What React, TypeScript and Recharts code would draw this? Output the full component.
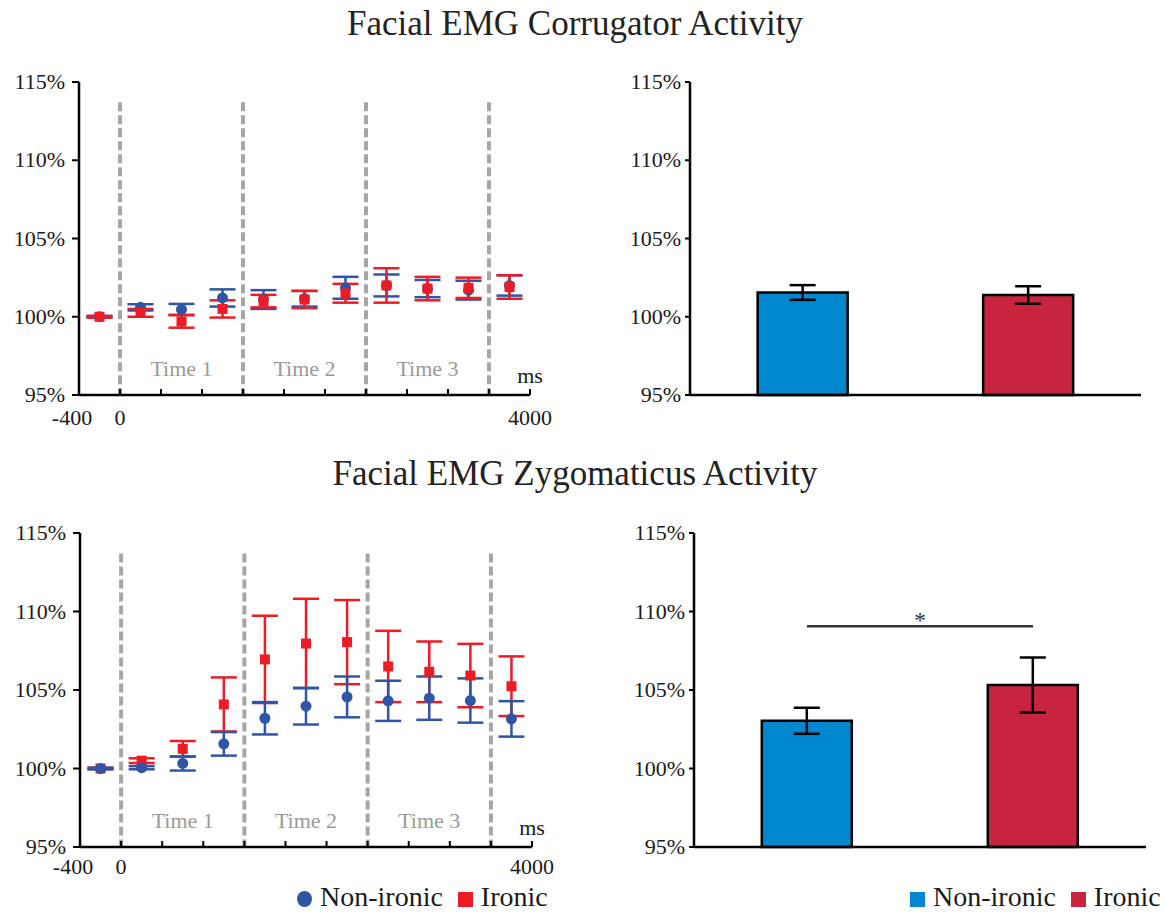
import { ScatterChart, Scatter, BarChart, Bar, Cell, XAxis, YAxis, ErrorBar, ReferenceLine, ReferenceDot } from 'recharts'

// time bins (ms) of the EMG windows
const times = [-200, 200, 600, 1000, 1400, 1800, 2200, 2600, 3000, 3400, 3800]
const xTicks = [-400, 0, 400, 800, 1200, 1600, 2000, 2400, 2800, 3200, 3600, 4000]
const xLabels = [-400, 0, 4000]
const yTicks = [95, 100, 105, 110, 115]
const periodBounds = [0, 1200, 2400, 3600]
const periodCenters = [600, 1800, 3000]
const periodNames = ['Time 1', 'Time 2', 'Time 3']

// corrugator, % of baseline
const corrNonIronic = [100, 100.6, 100.47, 101.2, 101.1, 101.15, 101.85, 102.0, 101.8, 101.7, 102.0]
const corrNonIronicErr = [0.05, 0.2, 0.35, 0.55, 0.6, 0.5, 0.7, 0.7, 0.55, 0.6, 0.65]
const corrIronic = [100, 100.25, 99.7, 100.5, 101.0, 101.1, 101.5, 102.0, 101.8, 101.85, 101.9]
const corrIronicErr = [0.05, 0.25, 0.4, 0.55, 0.4, 0.55, 0.6, 1.1, 0.75, 0.65, 0.75]

// zygomaticus, % of baseline
const zygNonIronic = [100, 100.05, 100.32, 101.57, 103.2, 103.97, 104.56, 104.31, 104.48, 104.33, 103.16]
const zygNonIronicErr = [0.05, 0.1, 0.45, 0.75, 1.03, 1.17, 1.3, 1.28, 1.38, 1.41, 1.13]
const zygIronic = [100, 100.5, 101.25, 104.08, 106.95, 107.96, 108.05, 106.5, 106.16, 105.92, 105.24]
const zygIronicErr = [0.05, 0.15, 0.5, 1.72, 2.78, 2.85, 2.68, 2.27, 1.93, 2.02, 1.9]

// mean over the whole window
const conditions = ['Non-ironic', 'Ironic']
const corrBarMeans = [101.55, 101.39]
const corrBarErr = [0.47, 0.56]
const zygBarMeans = [103.04, 105.32]
const zygBarErr = [0.83, 1.75]
const zygSignificance = 109.06

const BLUE = '#2f55a6'
const RED = '#ed1c24'
const barColors = ['#0087ce', '#c8233f']
const FONT = '"Liberation Serif", "Times New Roman", serif'

const toPoints = (vals: number[], errs: number[]) =>
  times.map((t, i) => ({ x: t, y: vals[i], err: errs[i] }))

function PctTick(props: any) {
  const { x, y, payload } = props
  return (
    <text x={x} y={y} dy={7} textAnchor="end" fill="#1a1a1a" fontSize={22} fontFamily={FONT}>
      {`${payload.value}%`}
    </text>
  )
}

function TimeTick(props: any) {
  const { x, y, payload, labelDy } = props
  const v = payload.value
  return (
    <g>
      {v > -400 && <line x1={x} x2={x} y1={y} y2={y - 6} stroke="#000" strokeWidth={2} />}
      {xLabels.includes(v) && (
        <text x={v === -400 ? x - 7 : x} y={y + labelDy} textAnchor="middle" fill="#1a1a1a" fontSize={22} fontFamily={FONT}>
          {v}
        </text>
      )}
    </g>
  )
}

const circleShape = (p: any) => <circle cx={p.cx} cy={p.cy} r={5.5} fill={BLUE} />
const squareShape = (p: any) => <rect x={p.cx - 5} y={p.cy - 5} width={10} height={10} fill={RED} />

interface TimePanelProps {
  nonIronic: { x: number; y: number; err: number }[]
  ironic: { x: number; y: number; err: number }[]
  ironicOnTop: boolean
  top: number
  yAxisWidth: number
  marginTop: number
  marginRight: number
  axisHeight: number
  labelDy: number
}

function TimePanel({ nonIronic, ironic, ironicOnTop, top, yAxisWidth, marginTop, marginRight, axisHeight, labelDy }: TimePanelProps) {
  const blue = (
    <Scatter key="blue" data={nonIronic} shape={circleShape} isAnimationActive={false}>
      <ErrorBar dataKey="err" direction="y" width={13} stroke={BLUE} strokeWidth={2.5} isAnimationActive={false} />
    </Scatter>
  )
  const red = (
    <Scatter key="red" data={ironic} shape={squareShape} isAnimationActive={false}>
      <ErrorBar dataKey="err" direction="y" width={13} stroke={RED} strokeWidth={2.5} isAnimationActive={false} />
    </Scatter>
  )
  return (
    <div style={{ position: 'absolute', left: 0, top }}>
      <ScatterChart width={580} height={400} margin={{ top: marginTop, right: marginRight, bottom: 5, left: 0 }}>
        <XAxis
          type="number"
          dataKey="x"
          domain={[-400, 4000]}
          ticks={xTicks}
          interval={0}
          tickSize={0}
          tickMargin={0}
          tickLine={false}
          axisLine={{ stroke: '#000', strokeWidth: 2.5 }}
          tick={(p: any) => <TimeTick {...p} labelDy={labelDy} />}
          height={axisHeight}
        />
        <YAxis
          type="number"
          dataKey="y"
          domain={[95, 115]}
          ticks={yTicks}
          interval={0}
          width={yAxisWidth}
          tickSize={7}
          tickMargin={7}
          axisLine={{ stroke: '#000', strokeWidth: 2.5 }}
          tickLine={{ stroke: '#000', strokeWidth: 2 }}
          tick={PctTick}
        />
        {periodBounds.map(b => (
          <ReferenceLine
            key={b}
            segment={[{ x: b, y: 113.7 }, { x: b, y: 95 }]}
            stroke="#a6a6a6"
            strokeWidth={4}
            strokeDasharray="9 4"
          />
        ))}
        {periodCenters.map((c, i) => (
          <ReferenceDot
            key={c}
            x={c}
            y={96.7}
            r={0}
            fill="none"
            stroke="none"
            label={{ value: periodNames[i], position: 'center', fill: '#9a9a9a', fontSize: 22, fontFamily: FONT }}
          />
        ))}
        <ReferenceDot
          x={4000}
          y={95}
          r={0}
          fill="none"
          stroke="none"
          label={{ value: 'ms', position: 'top', offset: 12, fill: '#1a1a1a', fontSize: 22, fontFamily: FONT }}
        />
        {ironicOnTop ? [blue, red] : [red, blue]}
      </ScatterChart>
    </div>
  )
}

interface BarPanelProps {
  means: number[]
  errs: number[]
  top: number
  yAxisWidth: number
  marginTop: number
  marginRight: number
  axisHeight: number
  significance?: number
}

function BarPanel({ means, errs, top, yAxisWidth, marginTop, marginRight, axisHeight, significance }: BarPanelProps) {
  const data = conditions.map((name, i) => ({ name, value: means[i], err: errs[i] }))
  return (
    <div style={{ position: 'absolute', left: 600, top }}>
      <BarChart width={565} height={400} data={data} margin={{ top: marginTop, right: marginRight, bottom: 5, left: 0 }} barCategoryGap="30%">
        <XAxis dataKey="name" tick={false} tickLine={false} axisLine={{ stroke: '#000', strokeWidth: 2.5 }} height={axisHeight} />
        <YAxis
          type="number"
          domain={[95, 115]}
          ticks={yTicks}
          interval={0}
          width={yAxisWidth}
          tickSize={5}
          tickMargin={4}
          axisLine={{ stroke: '#000', strokeWidth: 2.5 }}
          tickLine={{ stroke: '#000', strokeWidth: 2 }}
          tick={PctTick}
        />
        <Bar dataKey="value" stroke="#000" strokeWidth={2.5} isAnimationActive={false}>
          {data.map((d, i) => (
            <Cell key={d.name} fill={barColors[i]} />
          ))}
          <ErrorBar dataKey="err" direction="y" width={13} stroke="#000" strokeWidth={2.5} isAnimationActive={false} />
        </Bar>
        {significance !== undefined && (
          <ReferenceLine
            segment={[{ x: conditions[0], y: significance }, { x: conditions[1], y: significance }]}
            stroke="#333"
            strokeWidth={2.5}
            label={{ value: '*', position: 'top', offset: -2, fill: '#333', fontSize: 24, fontFamily: FONT }}
          />
        )}
      </BarChart>
    </div>
  )
}

const titleStyle = {
  position: 'absolute' as const,
  left: 0,
  width: 1150,
  textAlign: 'center' as const,
  fontFamily: FONT,
  fontSize: 35,
  lineHeight: '35px',
  color: '#222',
}

function Marker({ shape, color }: { shape: 'circle' | 'square'; color: string }) {
  return (
    <span
      style={{
        display: 'inline-block',
        width: 15,
        height: shape === 'circle' ? 16 : 15,
        borderRadius: shape === 'circle' ? '50%' : 0,
        background: color,
        marginTop: 4,
        marginRight: 8,
      }}
    />
  )
}

function LegendRow({ left, shapes, colors }: { left: number; shapes: ('circle' | 'square')[]; colors: string[] }) {
  return (
    <div
      style={{
        position: 'absolute',
        left,
        top: 883,
        display: 'flex',
        alignItems: 'center',
        fontFamily: FONT,
        fontSize: 28,
        lineHeight: '28px',
        color: '#1a1a1a',
        whiteSpace: 'nowrap',
      }}
    >
      {conditions.map((c, i) => (
        <span key={c} style={{ display: 'flex', alignItems: 'center', marginRight: i === 0 ? 15 : 0 }}>
          <Marker shape={shapes[i]} color={colors[i]} />
          {c}
        </span>
      ))}
    </div>
  )
}

export default function App() {
  return (
    <div style={{ position: 'absolute', left: 0, top: 0, width: 1165, height: 913, background: '#fff', overflow: 'hidden' }}>
      <div style={{ ...titleStyle, top: 6 }}>Facial EMG Corrugator Activity</div>
      <div style={{ ...titleStyle, top: 456 }}>Facial EMG Zygomaticus Activity</div>

      <TimePanel
        nonIronic={toPoints(corrNonIronic, corrNonIronicErr)}
        ironic={toPoints(corrIronic, corrIronicErr)}
        ironicOnTop
        top={50}
        yAxisWidth={79}
        marginTop={32}
        marginRight={50}
        axisHeight={50}
        labelDy={30}
      />
      <TimePanel
        nonIronic={toPoints(zygNonIronic, zygNonIronicErr)}
        ironic={toPoints(zygIronic, zygIronicErr)}
        ironicOnTop={false}
        top={500}
        yAxisWidth={80}
        marginTop={33}
        marginRight={48}
        axisHeight={48}
        labelDy={27}
      />

      <BarPanel means={corrBarMeans} errs={corrBarErr} top={50} yAxisWidth={90} marginTop={32} marginRight={24} axisHeight={50} />
      <BarPanel
        means={zygBarMeans}
        errs={zygBarErr}
        top={500}
        yAxisWidth={94}
        marginTop={33}
        marginRight={19}
        axisHeight={48}
        significance={zygSignificance}
      />

      <LegendRow left={297} shapes={['circle', 'square']} colors={[BLUE, RED]} />
      <LegendRow left={910} shapes={['square', 'square']} colors={barColors} />
    </div>
  )
}
